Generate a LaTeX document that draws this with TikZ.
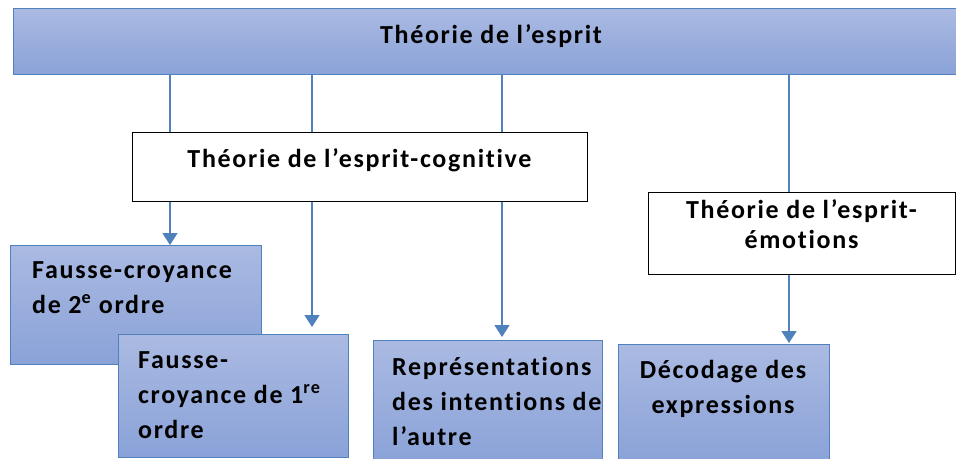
\documentclass[tikz,border=0pt]{standalone}
\usepackage{fontspec}
\setmainfont{Carlito}[LetterSpace=6.5, Ligatures={NoCommon}]
\usetikzlibrary{arrows.meta}
\definecolor{accent}{HTML}{4F81BD}
\definecolor{gtop}{HTML}{AABAE2}
\definecolor{gbot}{HTML}{8AA2D8}
\begin{document}
\begin{tikzpicture}[x=1pt,y=-1pt,
  bluebox/.style={draw=accent, line width=1pt, top color=gtop, bottom color=gbot, inner sep=0pt, anchor=north west},
  whitebox/.style={draw=black, line width=1pt, fill=white, inner sep=0pt, anchor=north west},
  txt/.style={font=\fontsize{26}{35}\selectfont\bfseries, inner sep=0pt},
  conn/.style={draw=accent, line width=1.6pt},
  arr/.style={conn, -{Triangle[length=12pt,width=15pt]}}]
\clip (0,0) rectangle (956,458);
\fill[white] (0,0) rectangle (956,458);
% boxes
\node[bluebox, minimum width=957pt, minimum height=66pt] (top) at (13,8) {};
\node[whitebox, minimum width=455pt, minimum height=69pt] (cog) at (132,132) {};
\node[whitebox, minimum width=307pt, minimum height=82pt] (emo) at (648,192) {};
\node[bluebox, minimum width=251pt, minimum height=119pt] (f2) at (10,245) {};
\node[bluebox, minimum width=230pt, minimum height=123pt] (f1) at (118,334) {};
\node[bluebox, minimum width=229pt, minimum height=125pt] (rep) at (373,340) {};
\node[bluebox, minimum width=211pt, minimum height=120pt] (dec) at (618,344) {};
% texts (base anchor = baseline of the last line)
\node[txt, anchor=base] (topt) at (491,43) {Théorie de l’esprit};
\node[txt, anchor=base] (cogt) at (359.5,167) {Théorie de l’esprit-cognitive};
\node[txt, anchor=base, align=center, font=\fontsize{26}{30}\selectfont\bfseries] (emot) at (801.5,248) {Théorie de l’esprit-\\émotions};
\node[txt, anchor=base west, align=left] (f2t) at (32,313) {Fausse-croyance\\de 2\textsuperscript{e} ordre};
\node[txt, anchor=base west, align=left] (f1t) at (138,438) {Fausse-\\croyance de 1\textsuperscript{re}\\ordre};
\node[txt, anchor=base west, align=left] (rept) at (392,445) {Représentations\\des intentions de\\l’autre};
\node[txt, anchor=base, align=center] (dect) at (723,413) {Décodage des\\expressions};
% connector columns
\coordinate (c1) at (170,0);
\coordinate (c2) at (312,0);
\coordinate (c3) at (502,0);
\coordinate (c4) at (789,0);
\draw[conn] (c1 |- top.south) -- (c1 |- cog.north);
\draw[conn] (c2 |- top.south) -- (c2 |- cog.north);
\draw[conn] (c3 |- top.south) -- (c3 |- cog.north);
\draw[conn] (c4 |- top.south) -- (c4 |- emo.north);
\draw[arr] (c1 |- cog.south) -- (c1 |- f2.north);
\draw[arr, shorten >=7pt] (c2 |- cog.south) -- (c2 |- f1.north);
\draw[arr, shorten >=3pt] (c3 |- cog.south) -- (c3 |- rep.north);
\draw[arr, shorten >=1pt] (c4 |- emo.south) -- (c4 |- dec.north);
\end{tikzpicture}
\end{document}
